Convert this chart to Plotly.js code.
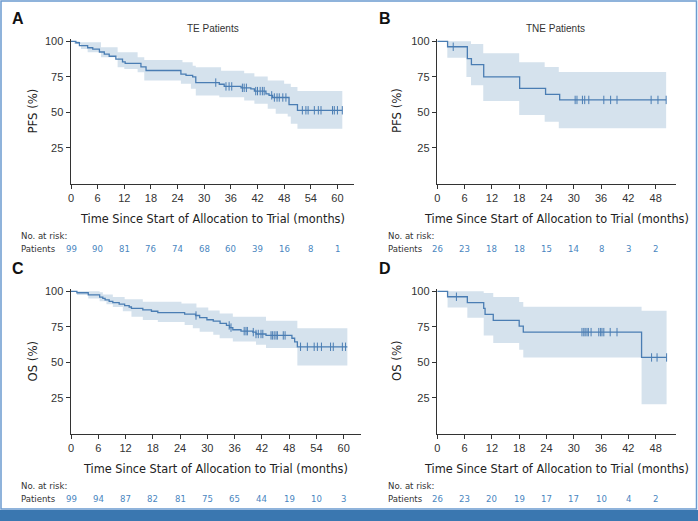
<!DOCTYPE html>
<html>
<head>
<meta charset="utf-8">
<script src="https://cdn.plot.ly/plotly-3.0.1.min.js"></script>
<style>
  html, body { margin: 0; padding: 0; background: #ffffff; }
  #chart { width: 698px; height: 521px; }
</style>
</head>
<body>
<div id="chart"></div>
<script>
// Kaplan-Meier panels, values

// --- Panel A: PFS, TE patients ---
const aTime = [0, 1.1, 1.9, 3.75, 4.9, 6.4, 7.5, 8.6, 10.1, 11.6, 12.2, 15.75, 16.9, 24.75, 25.9, 27.4, 28.1, 33.4, 34.5, 38.3, 40.5, 41.3, 43.9, 44.6, 45.4, 49.1, 51, 61.1];
const aSurv = [100, 99, 97, 95.5, 94.5, 92.5, 91, 89.5, 87.5, 85.5, 84.5, 82, 79.5, 77, 76, 75, 71, 69.8, 68.3, 67.3, 66.5, 65, 63, 62, 60.5, 55.5, 51.5, 51.5];
const aUpT = [0, 1.9, 6.75, 10.5, 15, 16.5, 25.1, 27.4, 28.1, 33.8, 39, 41.3, 44.3, 48, 49.5, 51, 61.1];
const aUpV = [100, 99.3, 95.8, 92.3, 88.8, 86.9, 85.3, 82.9, 81.8, 79.4, 77.6, 75.2, 72.4, 70.1, 67.8, 65, 65];
const aLoT = [0, 0.75, 2.25, 3.75, 6.75, 10.5, 12, 15, 16.5, 24.75, 27, 28.1, 33.4, 39, 41.3, 44.3, 46.1, 48.8, 49.5, 51, 61.1];
const aLoV = [100, 98.1, 94.6, 92.3, 88.8, 81.8, 80.6, 78.3, 72.4, 70.1, 66.6, 61.9, 60.7, 58.4, 56.1, 52.6, 49.1, 47.2, 42.1, 38.6, 38.6];
const aCens = [32.6, 34.9, 35.6, 36.2, 38.6, 39.0, 39.5, 41.6, 42.0, 42.6, 43.1, 43.5, 45.2, 45.8, 46.4, 46.9, 47.7, 48.4, 52.1, 52.9, 53.4, 54.8, 55.7, 56.3, 58.9, 59.3, 60.0, 61.1];
const aRisk = [99, 90, 81, 76, 74, 68, 60, 39, 16, 8, 1];

// --- Panel B: PFS, TNE patients ---
const bTime = [0, 2.26, 6.6, 7.5, 10.2, 18.1, 23.8, 26.9, 50.3];
const bSurv = [100, 96.2, 87.9, 83.6, 75, 66.9, 62.7, 58.8, 58.8];
const bUpT = [0, 7.4, 10.1, 18, 23.6, 26.7, 50.3];
const bUpV = [100, 98.1, 91.6, 85.3, 81.9, 78.4, 78.4];
const bLoT = [0, 2.2, 6.4, 7.4, 10.1, 18, 23.6, 26.7, 50.3];
const bLoV = [100, 88.4, 74.9, 69.1, 58.1, 48.1, 43.5, 38.8, 38.8];
const bCens = [3.5, 30.3, 30.7, 31.9, 32.4, 33.3, 36.6, 38.1, 39.5, 47.0, 48.5, 50.3];
const bRisk = [26, 23, 18, 18, 15, 14, 8, 3, 2];

// --- Panel C: OS, TE patients ---
const cTime = [0, 1.3, 3.8, 6.3, 7.0, 7.5, 8.4, 9.2, 10.6, 11.8, 12.8, 13.3, 15.8, 17.7, 19.1, 25.0, 27.4, 28.3, 29.9, 31.3, 32.8, 34.2, 34.9, 35.6, 37.4, 40.0, 40.7, 42.9, 48.6, 49.2, 49.8, 60.8];
const cSurv = [100, 99, 97.5, 96, 95, 94, 93, 92, 91, 90, 89, 88, 87, 86, 85, 84, 83, 81.5, 80, 79, 77.5, 76, 74.5, 73, 72, 71.3, 70, 69, 67, 64.5, 61, 61];
const cUpT = [0, 6.3, 7.0, 9.2, 11.8, 15.8, 24.3, 27.6, 30.2, 32.7, 35.6, 42.9, 49.8, 60.8];
const cUpV = [100, 99.3, 97.8, 96, 94.5, 92.6, 91.4, 88.7, 86.5, 84.5, 82.2, 79.4, 74.1, 74.1];
const cLoT = [0, 1.3, 3.8, 6.3, 7.8, 9.2, 11.4, 13.3, 15.8, 19.1, 25, 26.8, 28.3, 31.3, 32.7, 35.6, 40.7, 42.9, 49.8, 60.8];
const cLoV = [100, 97.5, 95, 93, 91, 89, 86, 82.2, 79.9, 78.5, 76.4, 74, 71.5, 69.4, 67, 64.8, 62.5, 60.2, 47.9, 47.9];
const cCens = [27.5, 34.8, 35.2, 38.1, 38.5, 38.8, 40.1, 40.7, 41.2, 41.8, 42.2, 44.0, 44.3, 44.7, 45.1, 45.4, 46.7, 47.1, 50.5, 52.0, 53.5, 54.2, 55.1, 57.1, 57.7, 59.7, 60.4];
const cRisk = [99, 94, 87, 82, 81, 75, 65, 44, 19, 10, 3];

// --- Panel D: OS, TNE patients ---
const dTime = [0, 2.26, 6.6, 10.2, 10.5, 12.3, 18.0, 18.9, 44.9, 50.4];
const dSurv = [100, 96.2, 92.1, 88, 83.8, 79.6, 75.5, 71.3, 53.5, 53.5];
const dUpT = [0, 10.2, 12.3, 18, 18.9, 44.9, 50.4];
const dUpV = [100, 98.8, 96, 92.5, 89.2, 86.3, 86.3];
const dLoT = [0, 2.26, 6.6, 10.2, 12.3, 18, 18.9, 44.9, 50.4];
const dLoV = [100, 88.7, 81.5, 69, 63.7, 59, 53.5, 20.5, 20.5];
const dCens = [4.2, 31.8, 32.2, 32.5, 32.9, 33.2, 33.8, 35.5, 35.9, 36.2, 36.6, 38.0, 39.5, 47.1, 48.3, 50.4];
const dRisk = [26, 23, 20, 19, 17, 17, 10, 4, 2];

const ticksLong = [0, 6, 12, 18, 24, 30, 36, 42, 48, 54, 60];
const ticksShort = [0, 6, 12, 18, 24, 30, 36, 42, 48];

const W = 698, H = 521;
const px = v => v / W;
const py = v => 1 - v / H;

const lineColor = '#4a7db3';
const bandColor = '#d5e2ed';
const riskColor = '#4a86c0';
const axisColor = '#333333';
const sansFont = 'Liberation Sans, Arial, sans-serif';
const narrowFont = 'Liberation Sans Narrow, DejaVu Sans Condensed, Arial Narrow, sans-serif';

// value of a step curve at time t
function stepAt(times, vals, t) {
    let v = vals[0];
    for (let i = 0; i < times.length; i++) {
        if (times[i] <= t) v = vals[i];
    }
    return v;
}

const panels = [
    { id: 'A', xa: 'x',  ya: 'y',  time: aTime, surv: aSurv, upT: aUpT, upV: aUpV, loT: aLoT, loV: aLoV, cens: aCens, risk: aRisk, ticks: ticksLong,
      xdom: [71, 354.3], ydom: [38.5, 183.5], xmax: 63.8, ytitle: 'PFS (%)', title: 'TE Patients' },
    { id: 'B', xa: 'x2', ya: 'y2', time: bTime, surv: bSurv, upT: bUpT, upV: bUpV, loT: bLoT, loV: bLoV, cens: bCens, risk: bRisk, ticks: ticksShort,
      xdom: [437.3, 675.7], ydom: [38.5, 183.5], xmax: 52.4, ytitle: 'PFS (%)', title: 'TNE Patients' },
    { id: 'C', xa: 'x3', ya: 'y3', time: cTime, surv: cSurv, upT: cUpT, upV: cUpV, loT: cLoT, loV: cLoV, cens: cCens, risk: cRisk, ticks: ticksLong,
      xdom: [71, 361], ydom: [288.5, 433.5], xmax: 63.8, ytitle: 'OS (%)', title: '' },
    { id: 'D', xa: 'x4', ya: 'y4', time: dTime, surv: dSurv, upT: dUpT, upV: dUpV, loT: dLoT, loV: dLoV, cens: dCens, risk: dRisk, ticks: ticksShort,
      xdom: [437.3, 675.7], ydom: [288.5, 433.5], xmax: 52.4, ytitle: 'OS (%)', title: '' }
];

const traces = [];
const annotations = [];
const layout = {
    width: W,
    height: H,
    margin: { t: 0, r: 0, b: 0, l: 0 },
    paper_bgcolor: '#ffffff',
    plot_bgcolor: 'rgba(0,0,0,0)',
    showlegend: false,
    font: { family: sansFont, color: axisColor },
    shapes: [
        // outer frame
        { type: 'rect', xref: 'paper', yref: 'paper', x0: px(1), x1: px(696.5), y0: py(509), y1: py(1),
          line: { color: '#6b9bd0', width: 1.5 }, fillcolor: 'rgba(0,0,0,0)' },
        // bottom bar
        { type: 'rect', xref: 'paper', yref: 'paper', x0: 0, x1: 1, y0: 0, y1: py(510),
          line: { width: 0 }, fillcolor: '#3a77b0' }
    ],
    annotations: annotations
};

panels.forEach(p => {
    const common = { xaxis: p.xa, yaxis: p.ya, type: 'scatter', hoverinfo: 'skip' };
    traces.push(Object.assign({}, common, {
        x: p.loT, y: p.loV, mode: 'lines', line: { width: 0, shape: 'hv' }, fill: 'none'
    }));
    traces.push(Object.assign({}, common, {
        x: p.upT, y: p.upV, mode: 'lines', line: { width: 0, shape: 'hv' }, fill: 'tonexty', fillcolor: bandColor
    }));
    traces.push(Object.assign({}, common, {
        x: p.time, y: p.surv, mode: 'lines', line: { color: lineColor, width: 1.3, shape: 'hv' }
    }));
    traces.push(Object.assign({}, common, {
        x: p.cens, y: p.cens.map(t => stepAt(p.time, p.surv, t)), mode: 'markers',
        marker: { symbol: 'line-ns-open', size: 6, color: lineColor, line: { color: lineColor, width: 1 } }
    }));

    const xKey = p.xa === 'x' ? 'xaxis' : 'xaxis' + p.xa.slice(1);
    const yKey = p.ya === 'y' ? 'yaxis' : 'yaxis' + p.ya.slice(1);
    layout[xKey] = {
        domain: [px(p.xdom[0]), px(p.xdom[1])],
        anchor: p.ya,
        range: [0, p.xmax],
        tickvals: p.ticks,
        ticks: 'outside', ticklen: 4, tickwidth: 1, tickcolor: axisColor,
        showline: true, linecolor: axisColor, linewidth: 1.5,
        showgrid: false, zeroline: false,
        tickfont: { size: 11, family: sansFont, color: axisColor },
        fixedrange: true
    };
    layout[yKey] = {
        domain: [py(p.ydom[1]), py(p.ydom[0])],
        anchor: p.xa,
        range: [0, 102],
        tickvals: [25, 50, 75, 100],
        ticks: 'outside', ticklen: 4, tickwidth: 1, tickcolor: axisColor,
        showline: true, linecolor: axisColor, linewidth: 1.5,
        showgrid: false, zeroline: false,
        tickfont: { size: 11, family: sansFont, color: axisColor },
        fixedrange: true
    };

    const top = p.ydom[0];
    const bottom = p.ydom[1];
    const isLeft = p.id === 'A' || p.id === 'C';
    const midX = isLeft ? (p.id === 'A' ? 212.5 : 215) : 556.5;
    const letterX = isLeft ? 18 : 385.5;
    const textLeft = isLeft ? 19 : 385.7;
    const ytitleX = isLeft ? 31.5 : 396;

    // panel letter
    annotations.push({ xref: 'paper', yref: 'paper', x: px(letterX), y: py(top - 20), text: '<b>' + p.id + '</b>',
        showarrow: false, xanchor: 'center', yanchor: 'middle', font: { size: 16, family: sansFont, color: '#111111' } });
    // panel title
    if (p.title) {
        annotations.push({ xref: 'paper', yref: 'paper', x: px(p.id === 'A' ? 213 : 555.7), y: py(29), text: p.title,
            showarrow: false, xanchor: 'center', yanchor: 'middle', font: { size: 10, family: sansFont, color: axisColor } });
    }
    // x axis title
    annotations.push({ xref: 'paper', yref: 'paper', x: px(midX), y: py(bottom + 34.5), text: 'Time Since Start of Allocation to Trial (months)',
        showarrow: false, xanchor: 'center', yanchor: 'middle', font: { size: 12.6, family: narrowFont, color: '#222222' } });
    // y axis title
    annotations.push({ xref: 'paper', yref: 'paper', x: px(ytitleX), y: py((top + bottom) / 2), text: p.ytitle, textangle: -90,
        showarrow: false, xanchor: 'center', yanchor: 'middle', font: { size: 13, family: narrowFont, color: '#222222' } });
    // risk table
    annotations.push({ xref: 'paper', yref: 'paper', x: px(textLeft), y: py(bottom + 52), text: 'No. at risk:',
        showarrow: false, xanchor: 'left', yanchor: 'middle', font: { size: 9.5, family: narrowFont, color: axisColor } });
    annotations.push({ xref: 'paper', yref: 'paper', x: px(textLeft), y: py(bottom + 64.5), text: 'Patients',
        showarrow: false, xanchor: 'left', yanchor: 'middle', font: { size: 9.5, family: narrowFont, color: axisColor } });
    p.risk.forEach((n, i) => {
        annotations.push({ xref: p.xa, yref: 'paper', x: p.ticks[i], y: py(bottom + 64.5), text: String(n),
            showarrow: false, xanchor: 'center', yanchor: 'middle', font: { size: 9.5, family: narrowFont, color: riskColor } });
    });
});

Plotly.newPlot('chart', traces, layout, { displayModeBar: false, staticPlot: true });
</script>
</body>
</html>
